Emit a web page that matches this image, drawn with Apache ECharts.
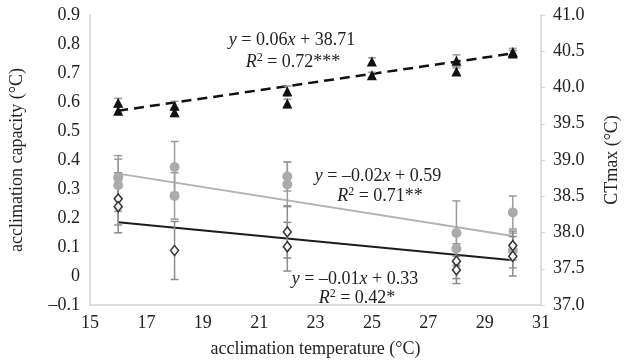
<!DOCTYPE html>
<html>
<head>
<meta charset="utf-8">
<script src="https://cdn.jsdelivr.net/npm/echarts@6/dist/echarts.min.js"></script>
<style>
  html, body { margin: 0; padding: 0; background: #fff; }
  #chart { width: 629px; height: 363px; }
</style>
</head>
<body>
<div id="chart"></div>
<script>
// acclimation capacity (left axis): grey circles and open diamonds, with SE
const circleTemp = [16, 16, 18, 18, 22, 22, 28, 28, 30, 30]
const circleCap = [0.34, 0.313, 0.376, 0.276, 0.343, 0.316, 0.148, 0.095, 0.219, 0.088]
const circleErr = [0.075, 0.09, 0.088, 0.08, 0.05, 0.077, 0.111, 0.06, 0.057, 0.06]

const diamondTemp = [16, 16, 18, 22, 22, 28, 28, 30, 30]
const diamondCap = [0.266, 0.239, 0.088, 0.152, 0.101, 0.051, 0.021, 0.105, 0.068]
const diamondErr = [0.09, 0.09, 0.1, 0.09, 0.084, 0.06, 0.047, 0.05, 0.068]

// CTmax (right axis): black triangles
const triTemp = [16, 16, 18, 18, 22, 22, 25, 25, 28, 28, 30, 30]
const triCT = [39.79, 39.68, 39.75, 39.66, 39.95, 39.78, 40.36, 40.17, 40.37, 40.22, 40.49, 40.47]
const triErr = [0.06, 0.05, 0.06, 0.06, 0.07, 0.06, 0.05, 0.04, 0.08, 0.05, 0.05, 0.04]

// trend lines, read at the ends
const fitTemp = [16, 30]
const greyFit = [0.353, 0.138]
const blackFit = [0.185, 0.054]
const dashFit = [39.68, 40.47]

const font = 'Liberation Serif'
const fontSize = 18
const textColor = '#222'
const axisGrey = '#d4d4d4'

const pairs = (xs, ys) => xs.map((x, i) => [x, ys[i]])
const bars = (xs, ys, es) => xs.map((x, i) => [x, ys[i] - es[i], ys[i] + es[i]])

function errorBars(color) {
	return function (params, api) {
		const lo = api.coord([api.value(0), api.value(1)])
		const hi = api.coord([api.value(0), api.value(2)])
		const w = 4
		const style = { stroke: color, lineWidth: 1.5 }
		return {
			type: 'group',
			children: [
				{ type: 'line', shape: { x1: lo[0], y1: lo[1], x2: hi[0], y2: hi[1] }, style },
				{ type: 'line', shape: { x1: lo[0] - w, y1: lo[1], x2: lo[0] + w, y2: lo[1] }, style },
				{ type: 'line', shape: { x1: hi[0] - w, y1: hi[1], x2: hi[0] + w, y2: hi[1] }, style }
			]
		}
	}
}

const rich = {
	i: { fontFamily: font, fontSize: fontSize, fontStyle: 'italic', color: textColor },
	n: { fontFamily: font, fontSize: fontSize, color: textColor },
	sup: { fontFamily: font, fontSize: 12, color: textColor, padding: [0, 0, 9, 0] }
}

function label(text, x, y) {
	return {
		type: 'text',
		x: x,
		y: y,
		z: 100,
		style: {
			text: text,
			rich: rich,
			align: 'center',
			verticalAlign: 'middle',
			fill: textColor
		}
	}
}

const nameStyle = { fontFamily: font, fontSize: fontSize, color: textColor }

const chart = echarts.init(document.getElementById('chart'))

chart.setOption({
	animation: false,
	textStyle: { fontFamily: font },
	grid: { left: 84, right: 85, top: 15, bottom: 50 },
	xAxis: {
		type: 'value',
		min: 15,
		max: 31,
		interval: 2,
		name: 'acclimation temperature (°C)',
		nameLocation: 'middle',
		nameGap: 35,
		nameTextStyle: nameStyle,
		axisLine: { onZero: false, lineStyle: { color: axisGrey, width: 1.5 } },
		axisTick: { show: false },
		axisLabel: { margin: 9, fontFamily: font, fontSize: fontSize, color: textColor },
		splitLine: { show: false }
	},
	yAxis: [
		{
			type: 'value',
			min: -0.1,
			max: 0.9,
			interval: 0.1,
			name: 'acclimation capacity (°C)',
			nameLocation: 'middle',
			nameRotate: 90,
			nameGap: 64,
			nameTextStyle: nameStyle,
			axisLine: { show: true, lineStyle: { color: axisGrey, width: 1.5 } },
			axisTick: { show: false },
			axisLabel: {
				margin: 10,
				fontFamily: font,
				fontSize: fontSize,
				color: textColor,
				formatter: (v) => {
					const r = Math.round(v * 10) / 10
					if (r === 0) return '0'
					return (r < 0 ? '–' : '') + Math.abs(r).toFixed(1)
				}
			},
			splitLine: { show: false }
		},
		{
			type: 'value',
			min: 37,
			max: 41,
			interval: 0.5,
			position: 'right',
			name: 'CTmax (°C)',
			nameLocation: 'middle',
			nameRotate: 90,
			nameGap: 62,
			nameTextStyle: nameStyle,
			axisLine: { show: true, lineStyle: { color: axisGrey, width: 1.5 } },
			axisTick: { show: true, length: 4, lineStyle: { color: axisGrey } },
			axisLabel: {
				margin: 12,
				fontFamily: font,
				fontSize: fontSize,
				color: textColor,
				formatter: (v) => v.toFixed(1)
			},
			splitLine: { show: false }
		}
	],
	graphic: [
		label('{i|y}{n| = 0.06}{i|x}{n| + 38.71}', 292, 40),
		label('{i|R}{sup|2}{n| = 0.72***}', 293, 62),
		label('{i|y}{n| = –0.02}{i|x}{n| + 0.59}', 378, 176),
		label('{i|R}{sup|2}{n| = 0.71**}', 380, 196),
		label('{i|y}{n| = –0.01}{i|x}{n| + 0.33}', 355, 279),
		label('{i|R}{sup|2}{n| = 0.42*}', 357, 298)
	],
	series: [
		{
			name: 'grey fit',
			type: 'line',
			data: pairs(fitTemp, greyFit),
			showSymbol: false,
			lineStyle: { color: '#b3b3b3', width: 2 },
			z: 2
		},
		{
			name: 'black fit',
			type: 'line',
			data: pairs(fitTemp, blackFit),
			showSymbol: false,
			lineStyle: { color: '#1c1c1c', width: 2 },
			z: 2
		},
		{
			name: 'CTmax fit',
			type: 'line',
			yAxisIndex: 1,
			data: pairs(fitTemp, dashFit),
			showSymbol: false,
			lineStyle: { color: '#111', width: 2.5, type: [10, 6] },
			z: 2
		},
		{
			name: 'circle err',
			type: 'custom',
			renderItem: errorBars('#9c9c9c'),
			data: bars(circleTemp, circleCap, circleErr),
			z: 3
		},
		{
			name: 'diamond err',
			type: 'custom',
			renderItem: errorBars('#8c8c8c'),
			data: bars(diamondTemp, diamondCap, diamondErr),
			z: 3
		},
		{
			name: 'triangle err',
			type: 'custom',
			yAxisIndex: 1,
			renderItem: errorBars('#9a9a9a'),
			data: bars(triTemp, triCT, triErr),
			z: 3
		},
		{
			name: 'capacity circles',
			type: 'scatter',
			data: pairs(circleTemp, circleCap),
			symbol: 'circle',
			symbolSize: 10,
			itemStyle: { color: '#ababab', opacity: 1 },
			z: 4
		},
		{
			name: 'capacity diamonds',
			type: 'scatter',
			data: pairs(diamondTemp, diamondCap),
			symbol: 'diamond',
			symbolSize: [8, 10],
			itemStyle: { color: '#f4f4f4', borderColor: '#333', borderWidth: 1.5, opacity: 1 },
			z: 4
		},
		{
			name: 'CTmax',
			type: 'scatter',
			yAxisIndex: 1,
			data: pairs(triTemp, triCT),
			symbol: 'triangle',
			symbolSize: [10, 10],
			itemStyle: { color: '#111', opacity: 1 },
			z: 4
		}
	]
})
</script>
</body>
</html>
